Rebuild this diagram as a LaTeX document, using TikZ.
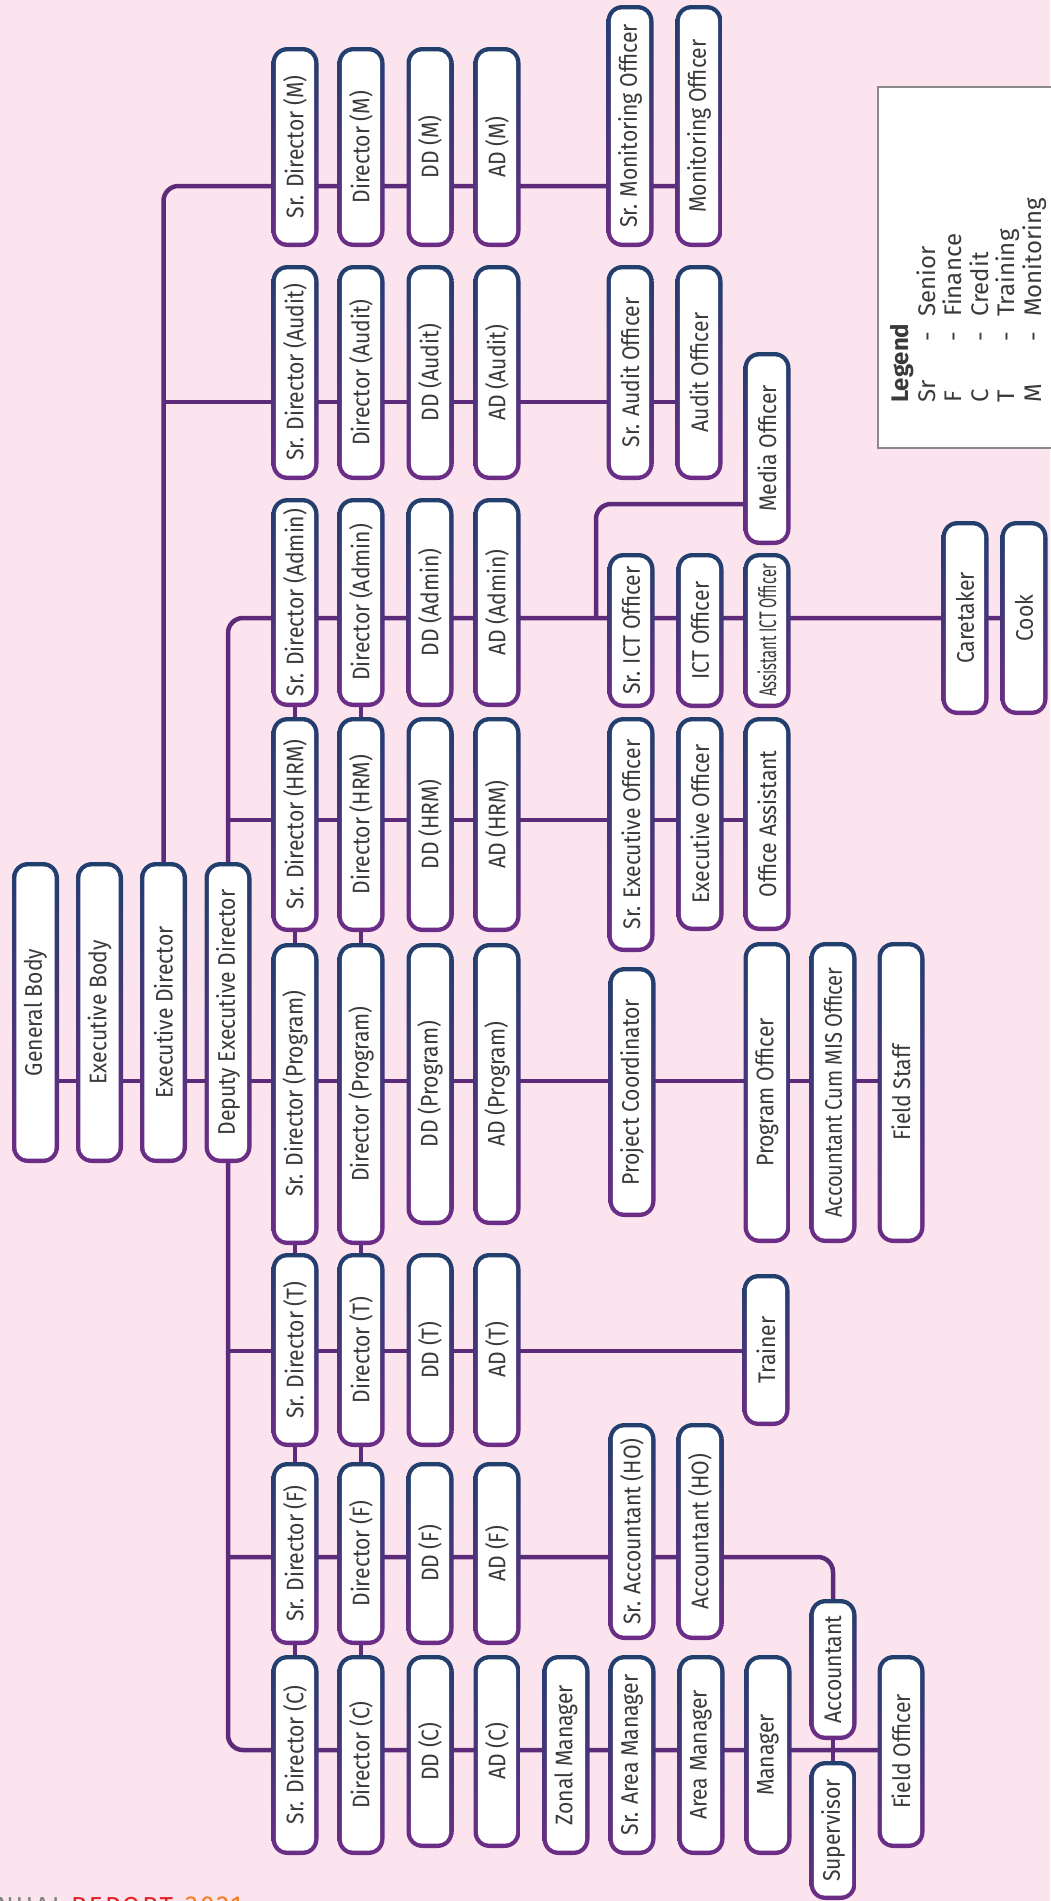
\documentclass[tikz,border=0pt]{standalone}
\usepackage{fontspec}
\setmainfont{Fira Sans}
\newfontfamily\boxfont{Fira Sans}[FakeStretch=0.88]
\newfontfamily\footfont{Fira Sans}[LetterSpace=8]
\usetikzlibrary{calc}
\pgfdeclarelayer{bg}
\pgfdeclarelayer{lines}
\pgfsetlayers{bg,lines,main}
\definecolor{bgc}{HTML}{FCE4EF}
\definecolor{linec}{HTML}{5C2B7A}
\definecolor{navyc}{HTML}{213F6D}
\definecolor{purc}{HTML}{6C2D86}
\definecolor{txtc}{HTML}{3A3A3A}
\definecolor{legc}{HTML}{8A8A8A}
\definecolor{footgray}{HTML}{808080}
\definecolor{footred}{HTML}{E31E24}
\definecolor{footorange}{HTML}{F47B20}
\tikzset{
  obx/.style={rectangle, inner sep=0pt, minimum width=47pt, rounded corners=16pt,
    top color=navyc, bottom color=purc, draw=none},
  btext/.style={inner sep=0pt, text=txtc, font=\boxfont\fontsize{24}{26}\selectfont},
  conn/.style={draw=linec, line width=4.5pt, rounded corners=15pt},
  lgt/.style={rotate=90, inner sep=0pt, text=txtc, font=\fontsize{24}{26}\selectfont},
  ftext/.style={inner sep=0pt, font=\footfont\fontsize{26}{28}\selectfont}
}
\newcommand\obox[5]{%
  \node[obx, minimum height={(#4)-(#3)}] (#1) at (#2,{((#3)+(#4))/2}) {};
  \fill[white, rounded corners=11.5pt] ([shift={(4.5pt,4.5pt)}]#1.south west) rectangle ([shift={(-4.5pt,-4.5pt)}]#1.north east);
  \node[btext] (#1t) at (#1.center) {\rotatebox{90}{#5}};
}
\begin{document}
\begin{tikzpicture}[x=1pt,y=-1pt]
\useasboundingbox (0,0) rectangle (1050,1901);
\begin{pgfonlayer}{bg}
\fill[bgc] (0,0) rectangle (1050,1901);
\end{pgfonlayer}

% row levels
\coordinate (yM) at (0,186);
\coordinate (yA) at (0,402);
\coordinate (yMd) at (596,504);
\coordinate (yAd) at (0,618);
\coordinate (yH) at (0,820);
\coordinate (yP) at (0,1081);
\coordinate (yT) at (0,1351);
\coordinate (yF) at (0,1557);
\coordinate (yC) at (0,1750);

% top chain
\obox{gb}{35.5}{862}{1163}{General Body}
\obox{eb}{99.5}{862}{1163}{Executive Body}
\obox{ed}{163.5}{862}{1163}{Executive Director}
\obox{ded}{228}{862}{1163}{Deputy Executive Director}

% Monitoring
\obox{sdM}{295}{47}{247}{Sr. Director (M)}
\obox{dM}{361}{47}{247}{Director (M)}
\obox{ddM}{430}{47}{247}{DD (M)}
\obox{adM}{497}{47}{247}{AD (M)}
\obox{smo}{630}{5}{247}{Sr. Monitoring Officer}
\obox{mo}{699}{5}{247}{Monitoring Officer}

% Audit
\obox{sdAu}{295}{265}{480}{Sr. Director (Audit)}
\obox{dAu}{361}{265}{480}{Director (Audit)}
\obox{ddAu}{430}{265}{480}{DD (Audit)}
\obox{adAu}{497}{265}{480}{AD (Audit)}
\obox{sao}{630}{265}{480}{Sr. Audit Officer}
\obox{ao}{699}{265}{480}{Audit Officer}
\obox{media}{767}{352}{545}{Media Officer}

% Admin
\obox{sdAd}{295}{498}{707}{Sr. Director (Admin)}
\obox{dAd}{361}{498}{707}{Director (Admin)}
\obox{ddAd}{430}{498}{707}{DD (Admin)}
\obox{adAd}{497}{498}{707}{AD (Admin)}
\obox{sict}{631}{553}{708}{Sr. ICT Officer}
\obox{ict}{700}{553}{708}{ICT Officer}
\obox{aict}{767}{553}{708}{\scalebox{0.7}[1]{Assistant ICT Officer}}
\obox{care}{965}{521}{715}{Caretaker}
\obox{cook}{1024}{521}{715}{Cook}

% HRM
\obox{sdH}{295}{717}{932}{Sr. Director (HRM)}
\obox{dH}{361}{717}{932}{Director (HRM)}
\obox{ddH}{430}{717}{932}{DD (HRM)}
\obox{adH}{497}{717}{932}{AD (HRM)}
\obox{seo}{631}{717}{952}{Sr. Executive Officer}
\obox{eo}{700}{717}{931}{Executive Officer}
\obox{oa}{767}{717}{931}{Office Assistant}

% Program
\obox{sdP}{295}{943}{1245}{Sr. Director (Program)}
\obox{dP}{361}{943}{1245}{Director (Program)}
\obox{ddP}{430}{943}{1225}{DD (Program)}
\obox{adP}{497}{943}{1225}{AD (Program)}
\obox{pc}{632}{967}{1217}{Project Coordinator}
\obox{po}{767}{942}{1243}{Program Officer}
\obox{acmis}{833}{942}{1243}{\scalebox{0.95}[1]{Accountant Cum MIS Officer}}
\obox{fstaff}{901}{942}{1243}{Field Staff}

% Training
\obox{sdT}{295}{1253}{1447}{Sr. Director (T)}
\obox{dT}{361}{1253}{1447}{Director (T)}
\obox{ddT}{430}{1253}{1447}{DD (T)}
\obox{adT}{497}{1253}{1447}{AD (T)}
\obox{trainer}{766}{1274}{1426}{Trainer}

% Finance
\obox{sdF}{295}{1462}{1645}{Sr. Director (F)}
\obox{dF}{361}{1462}{1645}{Director (F)}
\obox{ddF}{430}{1462}{1645}{DD (F)}
\obox{adF}{497}{1462}{1645}{AD (F)}
\obox{sacho}{632}{1423}{1640}{Sr. Accountant (HO)}
\obox{acho}{700}{1423}{1640}{Accountant (HO)}

% Credit
\obox{sdC}{295}{1655}{1855}{Sr. Director (C)}
\obox{dC}{361}{1655}{1855}{Director (C)}
\obox{ddC}{430}{1655}{1848}{DD (C)}
\obox{adC}{497}{1655}{1848}{AD (C)}
\obox{zm}{566}{1655}{1855}{Zonal Manager}
\obox{sam}{632}{1655}{1855}{Sr. Area Manager}
\obox{am}{701}{1655}{1855}{Area Manager}
\obox{mgr}{768}{1655}{1855}{Manager}
\obox{acc}{833}{1599}{1740}{Accountant}
\obox{sup}{833}{1761}{1900}{Supervisor}
\obox{fo}{901}{1655}{1848}{Field Officer}

% connectors
\begin{pgfonlayer}{lines}
\draw[conn] (gb |- yP) -- (fstaff |- yP);
\draw[conn] (ed.north) -- (ed |- yM) -- (mo |- yM);
\draw[conn] (ed |- yA) -- (ao |- yA);
\draw[conn] (media |- yMd) -- (yMd) -- (yMd |- yAd);
\draw[conn] (ded.north) -- (ded |- yAd) -- (cook |- yAd);
\draw[conn] (ded |- yH) -- (oa |- yH);
\draw[conn] (ded.south) -- (ded |- yC) -- (fo |- yC);
\draw[conn] (ded |- yT) -- (trainer |- yT);
\draw[conn] (ded |- yF) -- (acc |- yF) -- (acc.north);
\draw[conn] (acc) -- (sup);
\draw[conn] (sdAd) -- (sdC);
\draw[conn] (dAd) -- (dC);
\end{pgfonlayer}

% legend
\draw[draw=legc, line width=1.5pt, fill=white] (878,87) rectangle (1062,448);
\node[lgt, anchor=base west, font=\bfseries\fontsize{24}{26}\selectfont] (lgh) at (908,403) {Legend};
\foreach \lab/\lword/\lbx [count=\i] in {Sr/Senior/935, F/Finance/961.5, C/Credit/988, T/Training/1014.5, M/Monitoring/1041}{
  \node[lgt, anchor=base west] (lga\i) at (\lbx,403) {\lab};
  \node[lgt, anchor=base] (lgd\i) at (\lbx,337) {-};
  \node[lgt, anchor=base west] (lgw\i) at (\lbx,317) {\lword};
}

% footer
\node[ftext, text=footgray, anchor=north east] (f1) at (65,1897) {ANNUAL};
\node[ftext, text=footred, anchor=north west] (f2) at (71,1897) {REPORT};
\node[ftext, text=footorange, anchor=north west] (f3) at (185,1897) {2021};
\end{tikzpicture}
\end{document}
